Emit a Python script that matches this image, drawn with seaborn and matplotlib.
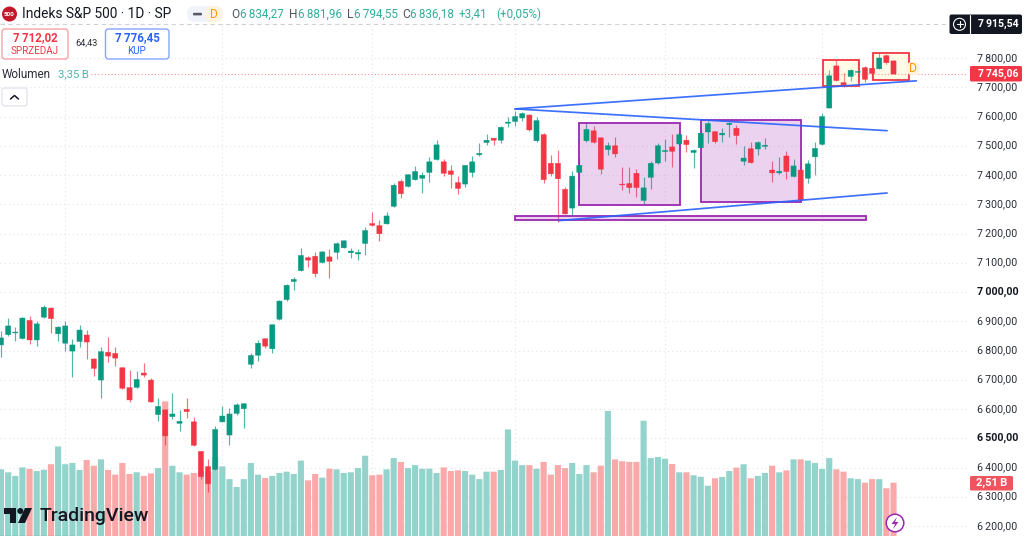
import numpy as np
import pandas as pd
import seaborn as sns
import matplotlib
matplotlib.use("Agg")
import matplotlib.pyplot as plt
from matplotlib.patches import Rectangle, FancyBboxPatch, Polygon, Circle
from matplotlib.lines import Line2D
from matplotlib.transforms import Affine2D

opens = [6819,6854,6860,6841,6903,6836,6914,6945,6857,6825,6798,6831,6853,6771,6699,6794,6790,6741,6673,6674,6723,6699,6581,6597,6574,6551,6599,6556,6455,6403,
         6394,6556,6511,6585,6601,6753,6784,6840,6806,6907,6974,7036,7073,7117,7122,7101,7120,7136,7151,7134,7130,7166,7234,7227,7233,7293,7378,7361,7384,7389,
         7409,7453,7445,7414,7374,7369,7409,7469,7511,7526,7519,7577,7583,7595,7605,7517,7538,7440,7440,7351,7287,7409,7517,7551,7527,7487,7500,7369,7371,7406,
         7313,7392,7441,7480,7496,7506,7519,7477,7493,7547,7548,7537,7572,7560,7447,7490,7489,7498,7417,7407,7465,7395,7417,7389,7462,7505,7629,7773,7716,7737,
         7751,7767,7765,7763,7808,7790]
highs = [6868,6910,6882,6916,6918,6900,6955,6948,6884,6900,6841,6886,6870,6773,6811,6846,6813,6743,6733,6731,6756,6705,6639,6599,6654,6597,6637,6574,6457,6429,
         6542,6610,6603,6619,6620,6793,6835,6844,6890,6971,7027,7052,7149,7122,7137,7140,7148,7170,7179,7152,7146,7221,7273,7246,7272,7371,7385,7403,7431,7410,
         7460,7519,7454,7435,7396,7435,7466,7508,7540,7528,7569,7600,7620,7617,7607,7598,7543,7469,7484,7358,7414,7457,7577,7568,7529,7512,7531,7427,7429,7420,
         7392,7447,7509,7523,7541,7552,7536,7488,7555,7583,7552,7559,7582,7571,7499,7513,7515,7526,7449,7461,7481,7454,7445,7452,7513,7611,7759,7794,7748,7764,
         7794,7771,7767,7819,7812,7792]
lows = [6777,6850,6834,6838,6822,6815,6911,6861,6834,6800,6711,6813,6772,6713,6639,6762,6747,6669,6625,6673,6711,6623,6560,6476,6567,6526,6569,6474,6359,6317,
        6391,6554,6476,6581,6535,6741,6763,6807,6790,6905,6969,7008,7071,7086,7051,7100,7048,7113,7149,7116,7109,7128,7227,7175,7232,7292,7323,7360,7382,7339,
        7377,7452,7397,7354,7336,7360,7392,7464,7501,7501,7509,7563,7566,7586,7552,7514,7372,7397,7241,7265,7263,7360,7514,7511,7404,7469,7463,7349,7340,7324,
        7300,7351,7438,7449,7429,7503,7480,7424,7490,7509,7509,7514,7529,7506,7434,7440,7470,7488,7377,7404,7385,7392,7313,7372,7401,7504,7628,7721,7700,7723,
        7737,7719,7727,7762,7780,7744]
closes = [6843,6884,6863,6911,6836,6891,6948,6909,6880,6884,6819,6870,6829,6739,6796,6781,6774,6671,6631,6701,6716,6624,6609,6508,6583,6558,6591,6476,6369,6344,
          6530,6576,6583,6614,6618,6783,6825,6815,6888,6969,7023,7043,7125,7109,7063,7137,7105,7165,7175,7140,7135,7210,7228,7199,7260,7365,7336,7401,7412,7399,
          7445,7503,7406,7402,7354,7433,7445,7474,7519,7519,7563,7581,7600,7610,7554,7586,7384,7404,7387,7267,7396,7433,7556,7512,7420,7500,7472,7366,7357,7357,
          7356,7440,7500,7484,7481,7538,7504,7484,7543,7576,7514,7543,7577,7535,7458,7442,7511,7502,7407,7413,7412,7431,7315,7438,7491,7600,7739,7723,7708,7758,
          7754,7727,7747,7800,7784,7745]
volumes = [3.14,3.00,2.83,3.23,3.16,3.06,3.12,3.38,4.22,3.38,3.44,3.11,3.58,3.31,3.61,3.11,2.89,3.44,2.92,3.00,2.83,2.95,3.20,6.34,3.31,3.00,2.89,2.97,3.03,3.03,
           3.72,3.28,2.68,2.31,2.68,3.44,2.89,2.73,2.83,2.97,3.03,2.92,3.55,2.62,2.92,2.75,3.17,3.14,2.97,3.00,3.20,3.78,2.86,2.89,3.14,3.67,3.49,3.20,3.34,3.17,
           3.17,2.97,3.23,3.06,3.09,3.06,2.89,2.68,3.03,3.03,3.11,5.02,3.55,3.34,3.34,3.17,3.49,2.89,3.34,3.20,3.44,2.92,3.34,3.00,3.31,5.89,3.61,3.52,3.49,3.49,
           5.43,3.67,3.72,3.64,3.39,3.00,3.00,2.86,2.79,2.37,2.72,2.78,3.06,3.22,3.38,2.72,2.83,2.97,3.31,3.00,3.09,3.61,3.61,3.55,3.44,3.16,3.67,3.14,3.03,2.72,
           2.68,2.51,2.68,2.68,2.25,2.51]
price_ticks = [7800,7700,7600,7500,7400,7300,7200,7100,7000,6900,6800,6700,6600,6500,6400,6300,6200]
bold_ticks = [7000, 6500]
time_grid = [9,31,52,72,93,115]
trend_lines = [((72.0,7626),(128.2,7722)), ((72.0,7626),(124.1,7551.5)), ((78.1,7244),(124.1,7338.5))]
purple_boxes = [(81.0,95.1,7298,7579), (98.0,112.1,7309,7588), (72.0,121.1,7245,7261)]
red_boxes = [(115.1,120.1,7704,7794), (122.1,127.2,7726,7816)]

GREEN, RED = "#089981", "#F23645"
VGREEN, VRED = "#94D3CC", "#F9A9A9"
BLUE, PURPLE = "#2962FF", "#9C27B0"
TXT = "#2A2E39"
LGREEN = "#2FAE9C"

sns.set_theme(style="white")
plt.rcParams["font.family"] = ["Roboto", "DejaVu Sans"]

W, H = 1024, 536
PANE = 968
fig = plt.figure(figsize=(W/100, H/100), dpi=100, facecolor="white")
pos = [0, 0, PANE/W, 1]
xlim = (-1/7.14, (PANE-1)/7.14)
ylim = (7800-(H-58)/0.2925, 7800+58/0.2925)
px = Affine2D().scale(1, -1).translate(0, H)

# grid layer
grid = fig.add_axes(pos, zorder=1)
grid.set_xlim(xlim); grid.set_ylim(ylim)
grid.set_xticks(time_grid); grid.set_yticks(price_ticks)
grid.grid(True, color="#E6E8EE", lw=0.9, ls=(0, (1, 2.4)))
grid.tick_params(length=0, labelbottom=False, labelleft=False)
for s in grid.spines.values():
    s.set_visible(False)
grid.set_axisbelow(True)
grid.add_patch(Rectangle((0, 1-26/H), 1, 26/H, transform=grid.transAxes, fc="white", ec="none", zorder=1))

# volume layer
df = pd.DataFrame({"i": np.arange(len(volumes)), "v": volumes,
                   "dir": ["up" if c >= o else "down" for o, c in zip(opens, closes)]})
vol = fig.add_axes(pos, zorder=2)
vol.patch.set_alpha(0)
sns.barplot(data=df, x="i", y="v", hue="dir", palette={"up": VGREEN, "down": VRED}, native_scale=True,
            dodge=False, width=0.86, saturation=1, legend=False, errorbar=None, ax=vol)
for b in vol.patches:
    b.set_snap(False)
    b.set_linewidth(0)
vol.set_xlim(xlim); vol.set_ylim(0, H/21.23)
vol.set_axis_off()

# price layer
ax = fig.add_axes(pos, zorder=3)
ax.patch.set_alpha(0)
ax.set_xlim(xlim); ax.set_ylim(ylim)
for s in ax.spines.values():
    s.set_visible(False)
ax.set_xticks([])
ax.yaxis.tick_right()
ax.set_yticks(price_ticks)
ax.set_yticklabels([f"{v:,.2f}".replace(",", "\u2009").replace(".", ",") for v in price_ticks])
ax.tick_params(axis="y", length=0, pad=6.3, labelsize=7.7, labelcolor=TXT)
for lab, v in zip(ax.get_yticklabels(), price_ticks):
    lab.set_y(v)
    lab.set_transform(lab.get_transform() + Affine2D().translate(0, 1.2))
    if v in bold_ticks:
        lab.set_fontweight("bold")
        lab.set_color("#131722")

for x0, x1, y0, y1 in purple_boxes:
    ax.add_patch(Rectangle((x0, y0), x1-x0, y1-y0, fc=(156/255, 39/255, 176/255, 0.2), ec=PURPLE, lw=1.3, zorder=3.5))
for x0, x1, y0, y1 in red_boxes:
    ax.add_patch(Rectangle((x0, y0), x1-x0, y1-y0, fc=(255/255, 235/255, 120/255, 0.18), ec=RED, lw=1.3, zorder=3.5))

x = np.arange(len(opens))
up = np.array(closes) >= np.array(opens)
colors = [GREEN if u else RED for u in up]
ax.vlines(x, lows, highs, colors=colors, lw=0.85, alpha=0.7, zorder=3)
bars = ax.bar(x, np.abs(np.array(closes)-np.array(opens)), bottom=np.minimum(opens, closes), width=0.72,
              color=colors, linewidth=0.3, edgecolor=colors, zorder=4)
for b in bars:
    b.set_snap(False)

for (a, b) in trend_lines:
    ax.plot([a[0], b[0]], [a[1], b[1]], color=BLUE, lw=1.25, alpha=0.9, zorder=5, solid_capstyle="round")

ax.hlines(closes[-1], (91-1)/7.14, xlim[1], color=RED, lw=0.8, alpha=0.55, ls=(0, (1, 2)), zorder=1)


def T(x_, y_, s, size=8, color=TXT, weight="normal", ha="left"):
    return fig.text(x_, y_, s, transform=px, fontsize=size, color=color, fontweight=weight, ha=ha,
                    va="center", zorder=20)


def RB(x0, y0, x1, y1, fc="white", ec="none", lw=1.0, r=3):
    p = FancyBboxPatch((x0, y0), x1-x0, y1-y0, boxstyle=f"round,pad=0,rounding_size={r}", fc=fc, ec=ec, lw=lw,
                       transform=px, zorder=15)
    fig.add_artist(p)


# header
fig.add_artist(Line2D([0, 949], [24, 24], transform=px, color="#CFD2D8", lw=0.8, ls=(0, (4, 3)), zorder=12))
fig.add_artist(Circle((9.5, 14), 7.5, transform=px, fc="#C2182B", ec="none", zorder=15))
T(9.5, 14.3, "500", size=4.6, color="white", weight="bold", ha="center")
T(22, 14.5, "Indeks S&P 500 · 1D · SP", size=9.9, color="#131722")
RB(187, 6, 223, 22, fc="#F0F3FA", r=8)
RB(205, 6, 223, 22, fc="#FFF3E0", r=8)
RB(193, 12.8, 202, 15.4, fc="#555A66", r=1)
T(213.5, 14, "D", size=8.6, color="#FF9800", ha="center")
ohlc = [(231, 240, "O", "6\u2009834,27"), (289, 298, "H", "6\u2009881,96"),
        (347, 353.5, "L", "6\u2009794,55"), (402, 410.5, "C", "6\u2009836,18")]
for xk, xv, k, val in ohlc:
    T(xk, 14.3, k, size=8.6, color="#50535E")
    T(xv, 14.3, val, size=8.4, color=LGREEN)
T(459, 14.3, "+3,41", size=8.4, color=LGREEN)
T(496, 14.3, "(+0,05%)", size=8.4, color=LGREEN)

# buy / sell
RB(2, 29, 68, 59, fc="white", ec="#F7A1A8", lw=1)
T(35, 38, "7\u2009712,02", size=8.3, color=RED, weight="bold", ha="center")
T(35, 50.5, "SPRZEDAJ", size=7.1, color=RED, ha="center")
T(87, 43.5, "64,43", size=6.6, color=TXT, ha="center")
RB(105.5, 29, 169, 59, fc="white", ec="#86A5FF", lw=1)
T(137, 38, "7\u2009776,45", size=8.3, color=BLUE, weight="bold", ha="center")
T(137, 50.5, "KUP", size=7.1, color=BLUE, ha="center")

T(2, 74.5, "Wolumen", size=8.5, color=TXT)
T(58, 74.5, "3,35\u2009B", size=8.2, color="#4DB6AC")
RB(2, 88, 27, 106, fc="white", ec="#E0E3EB", lw=0.9, r=2.5)
fig.add_artist(Line2D([10.5, 14.5, 18.5], [99, 95.5, 99], transform=px, color="#131722", lw=1.1, zorder=16))

# right scale tags
RB(949.5, 14.5, 1022, 34, fc="#131722", r=2)
fig.add_artist(Circle((959.5, 24.3), 6, transform=px, fc="none", ec="white", lw=0.8, zorder=16))
fig.add_artist(Line2D([956.5, 962.5], [24.3, 24.3], transform=px, color="white", lw=0.8, zorder=16))
fig.add_artist(Line2D([959.5, 959.5], [21.3, 27.3], transform=px, color="white", lw=0.8, zorder=16))
fig.add_artist(Line2D([969.5, 969.5], [14.5, 34], transform=px, color="white", lw=0.8, zorder=16))
T(977.5, 24.3, "7\u2009915,54", size=7.6, color="white", weight="bold")
RB(970, 66, 1022, 81.5, fc=RED, r=1.5)
T(977.5, 73.8, "7\u2009745,06", size=7.6, color="white", weight="bold")
RB(970, 476, 1013, 490.5, fc="#F0555F", r=1.5)
T(991.5, 483.3, "2,51\u2009B", size=8.0, color="white", weight="bold", ha="center")

# dividend marker and lightning badge
fig.add_artist(Circle((913, 68.5), 7, transform=px, fc="#FFF3E0", ec="none", zorder=15))
T(913, 68.7, "D", size=8.8, color="#FF9800", ha="center")
fig.add_artist(Circle((895, 523), 8.8, transform=px, fc="white", ec=PURPLE, lw=1.1, zorder=15))
fig.add_artist(Polygon([(897, 517), (891.5, 524), (895, 524), (893, 529), (898.5, 522), (895, 522)], closed=True,
                       transform=px, fc=PURPLE, ec="none", zorder=16))

# TradingView logo
K = "#131722"
fig.add_artist(Polygon([(4, 508), (16, 508), (16, 523), (10, 523), (10, 514), (4, 514)], closed=True, transform=px,
                       fc=K, ec="none", zorder=15))
fig.add_artist(Circle((20.3, 511), 3, transform=px, fc=K, ec="none", zorder=15))
fig.add_artist(Polygon([(25, 508), (32, 508), (25, 523), (18, 523)], closed=True, transform=px, fc=K, ec="none", zorder=15))
T(39.5, 516, "TradingView", size=14, color=K, weight="medium")
fig.add_artist(Line2D([0, 75], [535.5, 535.5], transform=px, color="#2A2E39", lw=0.8, zorder=15))

fig.savefig("out.png", dpi=100)
